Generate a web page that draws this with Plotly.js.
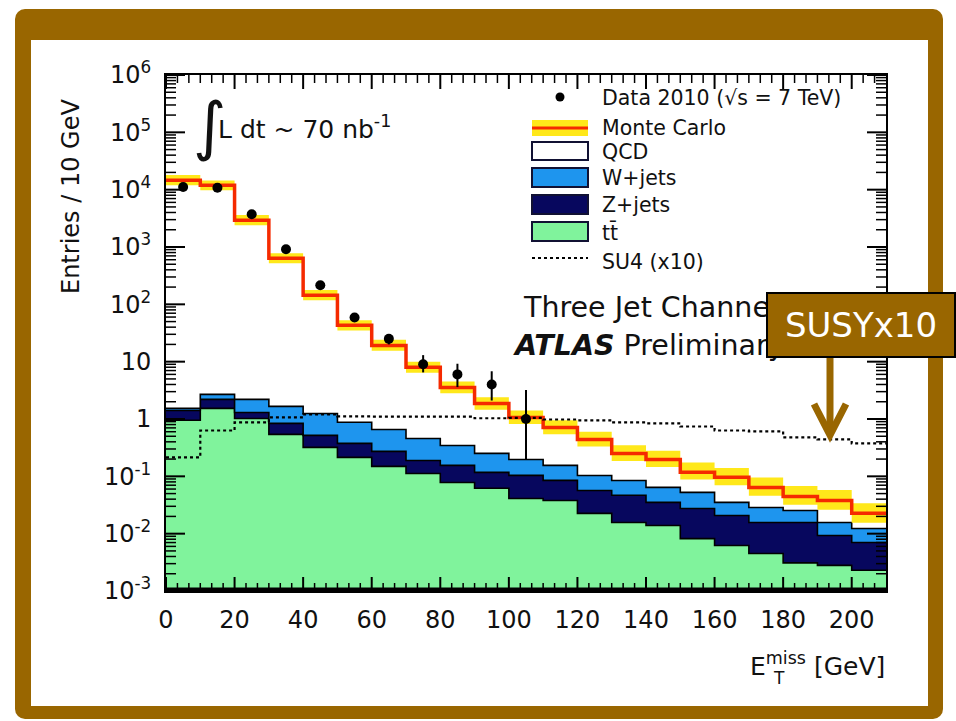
<!DOCTYPE html>
<html>
<head>
<meta charset="utf-8">
<script src="https://cdn.plot.ly/plotly-3.0.1.min.js"></script>
<style>
  html, body { margin: 0; padding: 0; background: #ffffff; }
  #wrap { position: relative; width: 956px; height: 721px; background: #ffffff; overflow: hidden; }
  #frame { position: absolute; left: 15px; top: 9px; width: 928px; height: 710px; background: #996600; border-radius: 10px; }
  #inner { position: absolute; left: 31px; top: 40px; width: 897px; height: 666px; background: #ffffff; }
  #plot { position: absolute; left: 0; top: 0; width: 956px; height: 721px; }
</style>
</head>
<body>
<div id="wrap">
  <div id="frame"></div>
  <div id="inner"></div>
  <div id="plot"></div>
</div>
<script>
// ---------------- DATA ----------------
// histogram bin edges, E_T^miss [GeV]
const binEdges = [0, 10, 20, 30, 40, 50, 60, 70, 80, 90, 100, 110, 120, 130, 140, 150, 160, 170, 180, 190, 200, 210];

// stacked Monte Carlo components (entries / 10 GeV), one value per bin
const ttbar = [0.95, 1.53, 1.02, 0.54, 0.32, 0.214, 0.149, 0.112, 0.078, 0.062, 0.041, 0.038, 0.0226, 0.0157, 0.0139, 0.0082, 0.0062, 0.0045, 0.0031, 0.0028, 0.0023];
const zjets = [0.46, 0.67, 0.28, 0.30, 0.198, 0.161, 0.123, 0.077, 0.077, 0.055, 0.063, 0.047, 0.034, 0.031, 0.0212, 0.0193, 0.0146, 0.0112, 0.0126, 0.0065, 0.0047];
const wjets = [0.12, 0.49, 0.90, 0.82, 0.73, 0.50, 0.385, 0.269, 0.191, 0.134, 0.093, 0.070, 0.047, 0.038, 0.029, 0.025, 0.0143, 0.0129, 0.0097, 0.0064, 0.0053];
const qcd   = [14600, 11900, 2918, 633, 143, 42.1, 18.5, 7.5, 3.21, 1.62, 0.87, 0.558, 0.336, 0.166, 0.133, 0.065, 0.061, 0.035, 0.019, 0.022, 0.0103];

// Monte Carlo uncertainty band (upper / lower edge)
const mcBandHigh = [18000, 14500, 3600, 780, 178, 53, 24, 10, 4.5, 2.4, 1.4, 0.95, 0.6, 0.35, 0.28, 0.175, 0.14, 0.095, 0.068, 0.058, 0.034];
const mcBandLow  = [12000, 9800, 2400, 520, 118, 35, 15.5, 6.4, 2.8, 1.45, 0.82, 0.54, 0.33, 0.185, 0.145, 0.088, 0.07, 0.046, 0.032, 0.026, 0.0155];

// SU4 signal (x10)
const su4x10 = [0.214, 0.63, 0.87, 1.07, 1.2, 1.11, 1.1, 1.1, 1.1, 1.03, 1.05, 0.98, 0.95, 0.87, 0.84, 0.74, 0.63, 0.61, 0.48, 0.44, 0.375];

// Data 2010
const dataX = [5, 15, 25, 35, 45, 55, 65, 75, 85, 95, 105];
const dataY = [11100, 10800, 3720, 912, 215, 59, 25, 9, 6, 4, 1];
const dataErrUp   = [105, 104, 61, 30, 14.7, 7.7, 5, 4, 3.2, 2.8, 2.2];
const dataErrDown = [105, 104, 61, 30, 14.7, 7.7, 5, 2.5, 2.4, 1.9, 0.8];

// axis tick labels
const yTickVals = [1e-3, 1e-2, 1e-1, 1, 10, 1e2, 1e3, 1e4, 1e5, 1e6];
const yTickText = ['10<sup>-3</sup>', '10<sup>-2</sup>', '10<sup>-1</sup>', '1', '10', '10<sup>2</sup>', '10<sup>3</sup>', '10<sup>4</sup>', '10<sup>5</sup>', '10<sup>6</sup>'];
const xTickVals = [0, 20, 40, 60, 80, 100, 120, 140, 160, 180, 200];

// ---------------- BUILD ----------------
function addArr(a, b) { return a.map((v, i) => v + b[i]); }
function step(arr) { return arr.concat([arr[arr.length - 1]]); }

const ttTop = ttbar.slice();
const zTop = addArr(ttTop, zjets);
const wTop = addArr(zTop, wjets);
const mcTotal = addArr(wTop, qcd);

const BROWN = '#996600';
const GREEN = '#80f39c';
const NAVY = '#07075e';
const BLUE = '#1e95ee';
const YELLOW = '#ffe81a';
const RED = '#f52a00';
const FONT = 'DejaVu Sans, Liberation Sans, Arial, sans-serif';

// plot area in pixels (x 166..886, y 75..591)
const PL = 166, PR = 886, PT = 75, PB = 591;
const PW = PR - PL, PH = PB - PT;
const X_MIN = 0, X_MAX = 210, Y_LOG_MIN = -3, Y_LOG_MAX = 6;
function px(x) { return (x - PL) / PW; }
function py(y) { return (PB - y) / PH; }
const xPerPx = (X_MAX - X_MIN) / PW;
const decPerPx = (Y_LOG_MAX - Y_LOG_MIN) / PH;

const baseLine = binEdges.map(() => 1e-6);

const traces = [
  { x: binEdges, y: baseLine, mode: 'lines', line: { width: 0, shape: 'hv' }, hoverinfo: 'skip', showlegend: false },
  { name: 'tt', x: binEdges, y: step(ttTop), mode: 'lines', line: { shape: 'hv', color: '#000000', width: 1.6 }, fill: 'tonexty', fillcolor: GREEN, showlegend: false },
  { name: 'Z+jets', x: binEdges, y: step(zTop), mode: 'lines', line: { shape: 'hv', color: '#000000', width: 1.6 }, fill: 'tonexty', fillcolor: NAVY, showlegend: false },
  { name: 'W+jets', x: binEdges, y: step(wTop), mode: 'lines', line: { shape: 'hv', color: '#000000', width: 1.6 }, fill: 'tonexty', fillcolor: BLUE, showlegend: false },
  { name: 'QCD', x: binEdges, y: step(mcTotal), mode: 'lines', line: { shape: 'hv', color: '#000000', width: 1 }, fill: 'tonexty', fillcolor: '#ffffff', showlegend: false },
  { x: binEdges, y: step(mcBandLow), mode: 'lines', line: { shape: 'hv', width: 0 }, hoverinfo: 'skip', showlegend: false },
  { name: 'MC band', x: binEdges, y: step(mcBandHigh), mode: 'lines', line: { shape: 'hv', width: 0 }, fill: 'tonexty', fillcolor: YELLOW, showlegend: false },
  { name: 'Monte Carlo', x: binEdges, y: step(mcTotal), mode: 'lines', line: { shape: 'hv', color: RED, width: 3.5 }, showlegend: false },
  { name: 'SU4 (x10)', x: binEdges, y: step(su4x10), mode: 'lines', line: { shape: 'hv', color: '#000000', width: 2.2, dash: '3px,3px' }, showlegend: false },
  { name: 'Data 2010', x: dataX, y: dataY, mode: 'markers', marker: { color: '#000000', size: 10 },
    error_y: { type: 'data', symmetric: false, array: dataErrUp, arrayminus: dataErrDown, color: '#000000', thickness: 2, width: 0 }, showlegend: false }
];

// ---- ROOT-style inside tick marks on all four sides (axis decoration, built from the axis ranges) ----
function tickTrace(lenX, lenY, xs, ys, w) {
  // xs: x positions for x-axis ticks; ys: y values for y-axis ticks
  const tx = [], ty = [];
  const yBot = Math.pow(10, Y_LOG_MIN), yTop = Math.pow(10, Y_LOG_MAX);
  xs.forEach(v => {
    tx.push(v, v, null); ty.push(yBot, Math.pow(10, Y_LOG_MIN + lenY * decPerPx), null);
    tx.push(v, v, null); ty.push(yTop, Math.pow(10, Y_LOG_MAX - lenY * decPerPx), null);
  });
  ys.forEach(v => {
    tx.push(X_MIN, X_MIN + lenX * xPerPx, null); ty.push(v, v, null);
    tx.push(X_MAX, X_MAX - lenX * xPerPx, null); ty.push(v, v, null);
  });
  return { x: tx, y: ty, mode: 'lines', line: { color: '#000000', width: w }, connectgaps: false, hoverinfo: 'skip', showlegend: false };
}
const xMinorTicks = [];
for (let k = 1; k * 10 / 3 < X_MAX; k++) { if (k % 6 !== 0) xMinorTicks.push(k * 10 / 3); }
const yMinorTicks = [];
for (let e = Y_LOG_MIN; e < Y_LOG_MAX; e++) { for (let m = 2; m <= 9; m++) yMinorTicks.push(m * Math.pow(10, e)); }
// major: x len 14 px, y len 19 px ; minor: x 8 px, y 10 px
const majX = tickTrace(19, 14, xTickVals, yTickVals, 2);
const minX = tickTrace(10, 8, xMinorTicks, yMinorTicks, 1.5);
traces.push(minX, majX);
// thick bottom frame line
traces.push({ x: [X_MIN, X_MAX], y: [Math.pow(10, Y_LOG_MIN + 1.5 * decPerPx), Math.pow(10, Y_LOG_MIN + 1.5 * decPerPx)], mode: 'lines', line: { color: '#000000', width: 4 }, hoverinfo: 'skip', showlegend: false });

const shapes = [];
const annotations = [];

// ---- legend (drawn) ----
const LX0 = 532, LX1 = 588, LTX = 600;
shapes.push({ type: 'circle', xref: 'paper', yref: 'paper', x0: px(555.5), x1: px(564.5), y0: py(101.5), y1: py(92.5), fillcolor: '#000000', line: { width: 0 } });
shapes.push({ type: 'rect', xref: 'paper', yref: 'paper', x0: px(LX0), x1: px(LX1), y0: py(136), y1: py(120), fillcolor: YELLOW, line: { width: 0 } });
shapes.push({ type: 'line', xref: 'paper', yref: 'paper', x0: px(LX0), x1: px(LX1), y0: py(128), y1: py(128), line: { color: RED, width: 3 } });
const legBoxes = [[142, 160, '#ffffff'], [168, 187, BLUE], [195, 214, NAVY], [222, 241, GREEN]];
legBoxes.forEach(b => {
  shapes.push({ type: 'rect', xref: 'paper', yref: 'paper', x0: px(LX0), x1: px(LX1), y0: py(b[1]), y1: py(b[0]), fillcolor: b[2], line: { color: '#111133', width: 2 } });
});
shapes.push({ type: 'line', xref: 'paper', yref: 'paper', x0: px(LX0), x1: px(LX1), y0: py(258), y1: py(258), line: { color: '#000000', width: 2.2, dash: '3px,3px' } });

const legTexts = [
  ['Data 2010 (√s = 7 TeV)', 98],
  ['Monte Carlo', 128],
  ['QCD', 152],
  ['W+jets', 178],
  ['Z+jets', 205],
  ['tt\u0304', 232],
  ['SU4 (x10)', 262]
];
legTexts.forEach(t => {
  annotations.push({ xref: 'paper', yref: 'paper', x: px(LTX), y: py(t[1]), xanchor: 'left', yanchor: 'middle', text: t[0], showarrow: false, font: { family: FONT, size: 20.5, color: '#111111' } });
});

// ---- in-plot texts ----
annotations.push({ xref: 'paper', yref: 'paper', x: px(209), y: py(126), xanchor: 'center', yanchor: 'middle', text: '∫', showarrow: false, font: { family: FONT, size: 64, color: '#111111' } });
annotations.push({ xref: 'paper', yref: 'paper', x: px(216), y: py(128), xanchor: 'left', yanchor: 'middle', text: 'L dt ~ 70 nb<sup>-1</sup>', showarrow: false, font: { family: FONT, size: 25, color: '#111111' } });
annotations.push({ xref: 'paper', yref: 'paper', x: px(521), y: py(307), xanchor: 'left', yanchor: 'middle', text: 'Three Jet Channel', showarrow: false, font: { family: FONT, size: 28.5, color: '#111111' } });
annotations.push({ xref: 'paper', yref: 'paper', x: px(511), y: py(345), xanchor: 'left', yanchor: 'middle', text: '<b><i>ATLAS</i></b> Preliminary', showarrow: false, font: { family: FONT, size: 28.5, color: '#111111' } });

// axis titles
annotations.push({ xref: 'paper', yref: 'paper', x: px(71), y: py(197), xanchor: 'center', yanchor: 'middle', textangle: -90, text: 'Entries / 10 GeV', showarrow: false, font: { family: FONT, size: 24, color: '#111111' } });
annotations.push({ xref: 'paper', yref: 'paper', x: px(887), y: py(664), xanchor: 'right', yanchor: 'middle', text: 'E<sup>miss</sup> [GeV]', showarrow: false, font: { family: FONT, size: 25, color: '#111111' } });
annotations.push({ xref: 'paper', yref: 'paper', x: px(771), y: py(678), xanchor: 'left', yanchor: 'middle', text: 'T', showarrow: false, font: { family: FONT, size: 17, color: '#111111' } });

// ---- SUSYx10 callout ----
shapes.push({ type: 'line', xref: 'paper', yref: 'paper', x0: px(830), x1: px(830), y0: py(357), y1: py(432), line: { color: BROWN, width: 7 } });
shapes.push({ type: 'path', xref: 'paper', yref: 'paper', path: 'M ' + px(814) + ' ' + py(404) + ' L ' + px(830) + ' ' + py(435) + ' L ' + px(846) + ' ' + py(404), line: { color: BROWN, width: 7 } });
annotations.push({ xref: 'paper', yref: 'paper', x: px(861), y: py(325), xanchor: 'center', yanchor: 'middle', text: 'SUSYx10', showarrow: false,
  font: { family: FONT, size: 34, color: '#ffffff' }, bgcolor: BROWN, bordercolor: '#000000', borderwidth: 2, borderpad: 2, width: 182, height: 58 });

const layout = {
  width: 956, height: 721,
  margin: { l: PL, r: 956 - PR, t: PT, b: 721 - PB, pad: 0 },
  paper_bgcolor: 'rgba(0,0,0,0)',
  plot_bgcolor: '#ffffff',
  showlegend: false,
  font: { family: FONT, color: '#111111' },
  xaxis: {
    range: [X_MIN, X_MAX], tickmode: 'array', tickvals: xTickVals,
    ticks: '', showline: true, linecolor: '#000000', linewidth: 2, mirror: true,
    showgrid: false, zeroline: false,
    tickfont: { family: FONT, size: 24, color: '#111111' }, ticklabelstandoff: 6
  },
  yaxis: {
    type: 'log', range: [Y_LOG_MIN, Y_LOG_MAX], tickmode: 'array', tickvals: yTickVals, ticktext: yTickText,
    ticks: '', showline: true, linecolor: '#000000', linewidth: 2, mirror: true,
    showgrid: false, zeroline: false,
    tickfont: { family: FONT, size: 24, color: '#111111' }, ticklabelstandoff: 8
  },
  shapes: shapes,
  annotations: annotations
};

Plotly.newPlot('plot', traces, layout, { displayModeBar: false, staticPlot: true });
</script>
</body>
</html>
